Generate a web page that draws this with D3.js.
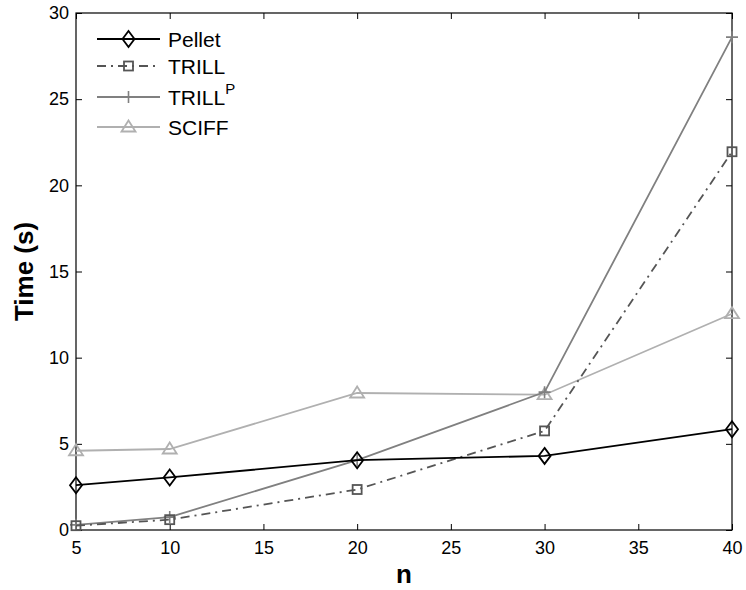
<!DOCTYPE html>
<html>
<head>
<meta charset="utf-8">
<script src="https://cdn.jsdelivr.net/npm/d3@7"></script>
<style>
  html, body { margin: 0; padding: 0; background: #fff; }
  svg text { font-family: "Liberation Sans", Arial, Helvetica, sans-serif; }
</style>
</head>
<body>
<svg id="chart" width="746" height="590"></svg>
<script>
// Problem size n on the x axis
const nValues = [5, 10, 20, 30, 40];
// Reasoning time in seconds per system
const pellet = [2.6, 3.05, 4.05, 4.3, 5.85];
const trill = [0.25, 0.6, 2.35, 5.75, 21.95];
const trillP = [0.3, 0.75, 4.05, 8.0, 28.6];
const sciff = [4.6, 4.7, 7.95, 7.85, 12.55];

const xTicks = [5, 10, 15, 20, 25, 30, 35, 40];
const yTicks = [0, 5, 10, 15, 20, 25, 30];

const series = [
  { name: "Pellet", values: pellet, color: "#000000", dash: null, marker: "diamond" },
  { name: "TRILL", values: trill, color: "#555555", dash: "9,5,2,5", marker: "square" },
  { name: "TRILL", sup: "P", values: trillP, color: "#808080", dash: null, marker: "plus" },
  { name: "SCIFF", values: sciff, color: "#b0b0b0", dash: null, marker: "triangle" }
];

const svg = d3.select("#chart");
const m = { left: 76, right: 14, top: 13, bottom: 60 };
const W = 746, H = 590;
const x = d3.scaleLinear().domain([5, 40]).range([m.left, W - m.right]);
const y = d3.scaleLinear().domain([0, 30]).range([H - m.bottom, m.top]);

// Axes with inward ticks on all four sides
const tickLen = 6;
const gx = svg.append("g").attr("transform", `translate(0,${y(0)})`)
  .call(d3.axisBottom(x).tickValues(xTicks).tickSizeInner(-tickLen).tickSizeOuter(0).tickPadding(11));
const gxTop = svg.append("g").attr("transform", `translate(0,${y(30)})`)
  .call(d3.axisTop(x).tickValues(xTicks).tickSizeInner(-tickLen).tickSizeOuter(0).tickFormat(""));
const gy = svg.append("g").attr("transform", `translate(${x(5)},0)`)
  .call(d3.axisLeft(y).tickValues(yTicks).tickSizeInner(-tickLen).tickSizeOuter(0).tickPadding(7));
const gyR = svg.append("g").attr("transform", `translate(${x(40)},0)`)
  .call(d3.axisRight(y).tickValues(yTicks).tickSizeInner(-tickLen).tickSizeOuter(0).tickFormat(""));

[gx, gxTop, gy, gyR].forEach(g => {
  g.select(".domain").remove();
  g.selectAll(".tick line").attr("stroke", "#000").attr("stroke-width", 1);
  g.selectAll("text").attr("font-size", 18).attr("fill", "#000");
});

// Frame
svg.append("rect")
  .attr("x", x(5)).attr("y", y(30))
  .attr("width", x(40) - x(5)).attr("height", y(0) - y(30))
  .attr("fill", "none").attr("stroke", "#000").attr("stroke-width", 1.2);

function drawMarker(g, type, cx, cy, color) {
  if (type === "diamond") {
    g.append("path").attr("d", `M${cx},${cy - 8}L${cx + 6},${cy}L${cx},${cy + 8}L${cx - 6},${cy}Z`)
      .attr("fill", "none").attr("stroke", color).attr("stroke-width", 1.8);
  } else if (type === "square") {
    g.append("rect").attr("x", cx - 4.5).attr("y", cy - 4.5).attr("width", 9).attr("height", 9)
      .attr("fill", "none").attr("stroke", color).attr("stroke-width", 1.8);
  } else if (type === "plus") {
    g.append("path").attr("d", `M${cx - 6},${cy}H${cx + 6}M${cx},${cy - 6}V${cy + 6}`)
      .attr("fill", "none").attr("stroke", color).attr("stroke-width", 1.6);
  } else if (type === "triangle") {
    g.append("path").attr("d", `M${cx},${cy - 6.5}L${cx + 7},${cy + 4.5}L${cx - 7},${cy + 4.5}Z`)
      .attr("fill", "none").attr("stroke", color).attr("stroke-width", 1.8);
  }
}

const line = d3.line().x((d, i) => x(nValues[i])).y(d => y(d));

// Draw back-to-front so Pellet sits on top
const order = [3, 2, 1, 0];
order.forEach(k => {
  const s = series[k];
  const g = svg.append("g");
  g.append("path").datum(s.values).attr("d", line)
    .attr("fill", "none").attr("stroke", s.color).attr("stroke-width", 1.8)
    .attr("stroke-dasharray", s.dash);
  s.values.forEach((v, i) => drawMarker(g, s.marker, x(nValues[i]), y(v), s.color));
});

// Legend
const legRows = [39, 66, 97, 127];
series.forEach((s, i) => {
  const ly = legRows[i];
  const g = svg.append("g");
  g.append("line").attr("x1", 97).attr("x2", 160).attr("y1", ly).attr("y2", ly)
    .attr("stroke", s.color).attr("stroke-width", 1.8).attr("stroke-dasharray", s.dash);
  drawMarker(g, s.marker, 128.5, ly, s.color);
  const t = g.append("text").attr("x", 168).attr("y", ly + 8).attr("font-size", 21).attr("fill", "#000")
    .text(s.name);
  if (s.sup) t.append("tspan").attr("dy", -11).attr("font-size", 15).text(s.sup);
});

// Axis titles
svg.append("text").attr("x", (x(5) + x(40)) / 2).attr("y", 583)
  .attr("text-anchor", "middle").attr("font-size", 26).attr("font-weight", "bold").text("n");
svg.append("text").attr("transform", `translate(33,${(y(0) + y(30)) / 2}) rotate(-90)`)
  .attr("text-anchor", "middle").attr("font-size", 26).attr("font-weight", "bold").text("Time (s)");
</script>
</body>
</html>
